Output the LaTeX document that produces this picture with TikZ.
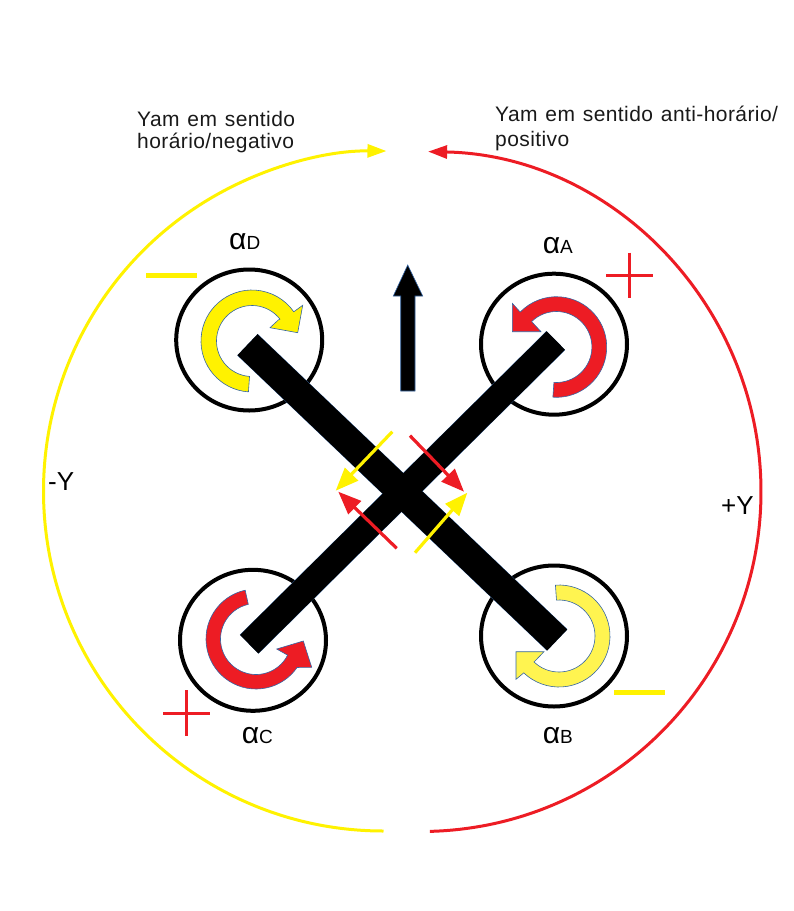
\documentclass[tikz,border=0pt]{standalone}
\usepackage{fontspec}
\setmainfont{Liberation Sans}
\usetikzlibrary{arrows.meta,shapes.geometric}
\definecolor{myred}{HTML}{ED1C24}
\definecolor{myyellow}{HTML}{FFF200}
\definecolor{lightyellow}{HTML}{FFF450}
\definecolor{edgeblue}{HTML}{3465A4}
\newfontfamily\capfont[LetterSpace=2,WordSpace=1.25]{Liberation Sans}
\tikzset{
  motor/.style={ellipse,draw=black,line width=4,minimum width=146,minimum height=141,inner sep=0,outer sep=0},
  armedge/.style={draw=edgeblue,line cap=butt},
  spin/.style={draw=edgeblue,line width=.6,line join=miter},
  bigarc/.style={line width=3},
  thrust/.style={line width=3.2},
  minussign/.style={draw=myyellow,line width=5},
  plussign/.style={draw=myred,line width=3},
  caption/.style={inner sep=0,anchor=base west,align=left,font=\capfont\fontsize{21}{22}\selectfont,text=black!90},
  axis/.style={inner sep=0,anchor=base west,font=\fontsize{26}{28}\selectfont},
  alphalabel/.style={inner sep=0,anchor=base west,font=\fontsize{30}{32}\selectfont}
}
\newcommand{\sublabel}[1]{{\fontsize{19}{20}\selectfont #1}}
\begin{document}
\begin{tikzpicture}[x=1pt,y=1pt,yscale=-1]
\useasboundingbox (0,0) rectangle (794,911);
% big arcs
\coordinate (yStart) at ([shift={(383.5,491)}]90:340);
\coordinate (rStart) at ([shift={(421,491.5)}]88.5:340);
\draw[bigarc,draw=myyellow,-{Triangle[length=19,width=13,fill=myyellow]}] (yStart) arc[start angle=90,end angle=270.5,radius=340];
\draw[bigarc,draw=myred,-{Triangle[length=19,width=13,fill=myred]}] (rStart) arc[start angle=88.5,end angle=-88.8,radius=340];
% motors
\node[motor] (mD) at (249.2,340) {};
\node[motor] (mA) at (554,344.2) {};
\node[motor] (mB) at (554,636) {};
\node[motor] (mC) at (253,640.3) {};
% spin arrows
\path[spin,fill=myyellow] ([shift={(252,341)}]94:51) arc[start angle=94,end angle=325,radius=51]
  -- (302.7,305.3) -- (297.7,332.7) -- (270,327.7) -- (278.3,320)
  -- ([shift={(252,341)}]322:35.5) arc[start angle=322,end angle=94,radius=35.5] -- cycle;
\path[spin,fill=myred] ([shift={(556.4,347)}]94:50.3) arc[start angle=94,end angle=-136,radius=50.3]
  -- (512.3,303.3) -- (512.3,331.7) -- (541,331.7) -- (531.7,321.7)
  -- ([shift={(556.4,347)}]-134:35.5) arc[start angle=-134,end angle=94,radius=35.5] -- cycle;
\path[spin,fill=lightyellow] ([shift={(559,636)}]-94:51) arc[start angle=-94,end angle=133.7,radius=51]
  -- (516,679.3) -- (516,651.7) -- (544,651.7) -- (535,661)
  -- ([shift={(559,636)}]134:36) arc[start angle=134,end angle=-94,radius=36] -- cycle;
\path[spin,fill=myred] ([shift={(256,639)}]257.5:50) arc[start angle=257.5,end angle=34.7,radius=50]
  -- (311.7,667.3) -- (303.3,641) -- (276.7,649) -- (287.3,655)
  -- ([shift={(256,639)}]27:35.5) arc[start angle=27,end angle=257.5,radius=35.5] -- cycle;
% arms
\coordinate (armD) at (247.5,344.7);
\coordinate (armB) at (557.2,640);
\coordinate (armA) at (555.8,340.5);
\coordinate (armC) at (249.2,644.2);
\draw[armedge,line width=29.6] (armD) -- (armB);
\draw[armedge,line width=26.6] (armA) -- (armC);
\draw[draw=black,line width=29,line cap=butt] (armD) -- (armB);
\draw[draw=black,line width=26,line cap=butt] (armA) -- (armC);
% heading arrow
\path[draw=edgeblue,line width=.6,fill=black] (407.7,265) -- (422.7,296) -- (415,296) -- (415,391) -- (400.7,391) -- (400.7,296) -- (393.3,296) -- cycle;
% thrust arrows
\coordinate (t1a) at (392.3,431.7); \coordinate (t1b) at (335.7,490.7);
\coordinate (t2a) at (396.7,548.3); \coordinate (t2b) at (338.3,491.7);
\coordinate (t3a) at (410,435.7);   \coordinate (t3b) at (464,491.7);
\coordinate (t4a) at (415,552.7);   \coordinate (t4b) at (467.3,492.7);
\draw[thrust,draw=myyellow,-{Triangle[length=23,width=18,fill=myyellow]}] (t1a) -- (t1b);
\draw[thrust,draw=myred,-{Triangle[length=23,width=18,fill=myred]}] (t2a) -- (t2b);
\draw[thrust,draw=myred,-{Triangle[length=23,width=18,fill=myred]}] (t3a) -- (t3b);
\draw[thrust,draw=myyellow,-{Triangle[length=23,width=18,fill=myyellow]}] (t4a) -- (t4b);
% signs
\draw[minussign] (146,275) -- (196.7,275);
\draw[minussign] (614,692.7) -- (665,692.7);
\draw[plussign] (606,275) -- (652.7,275);
\draw[plussign] (629.3,252.7) -- (629.3,297.7);
\draw[plussign] (163.3,713.3) -- (210,713.3);
\draw[plussign] (186,690) -- (186,735.7);
% labels
\node[alphalabel] (lD) at (229,249) {α\sublabel{D}};
\node[alphalabel] (lA) at (542.7,253.3) {α\sublabel{A}};
\node[alphalabel] (lB) at (542.7,743.3) {α\sublabel{B}};
\node[alphalabel] (lC) at (241.7,743.3) {α\sublabel{C}};
\node[axis] (mY) at (48,490) {-Y};
\node[axis] (pY) at (721,514) {+Y};
\node[caption] (capL) at (137,148) {Yam em sentido\\horário/negativo};
\node[caption] (capR) at (495,146.7) {Yam em sentido anti-horário/\\[3pt]positivo};
\end{tikzpicture}
\end{document}
